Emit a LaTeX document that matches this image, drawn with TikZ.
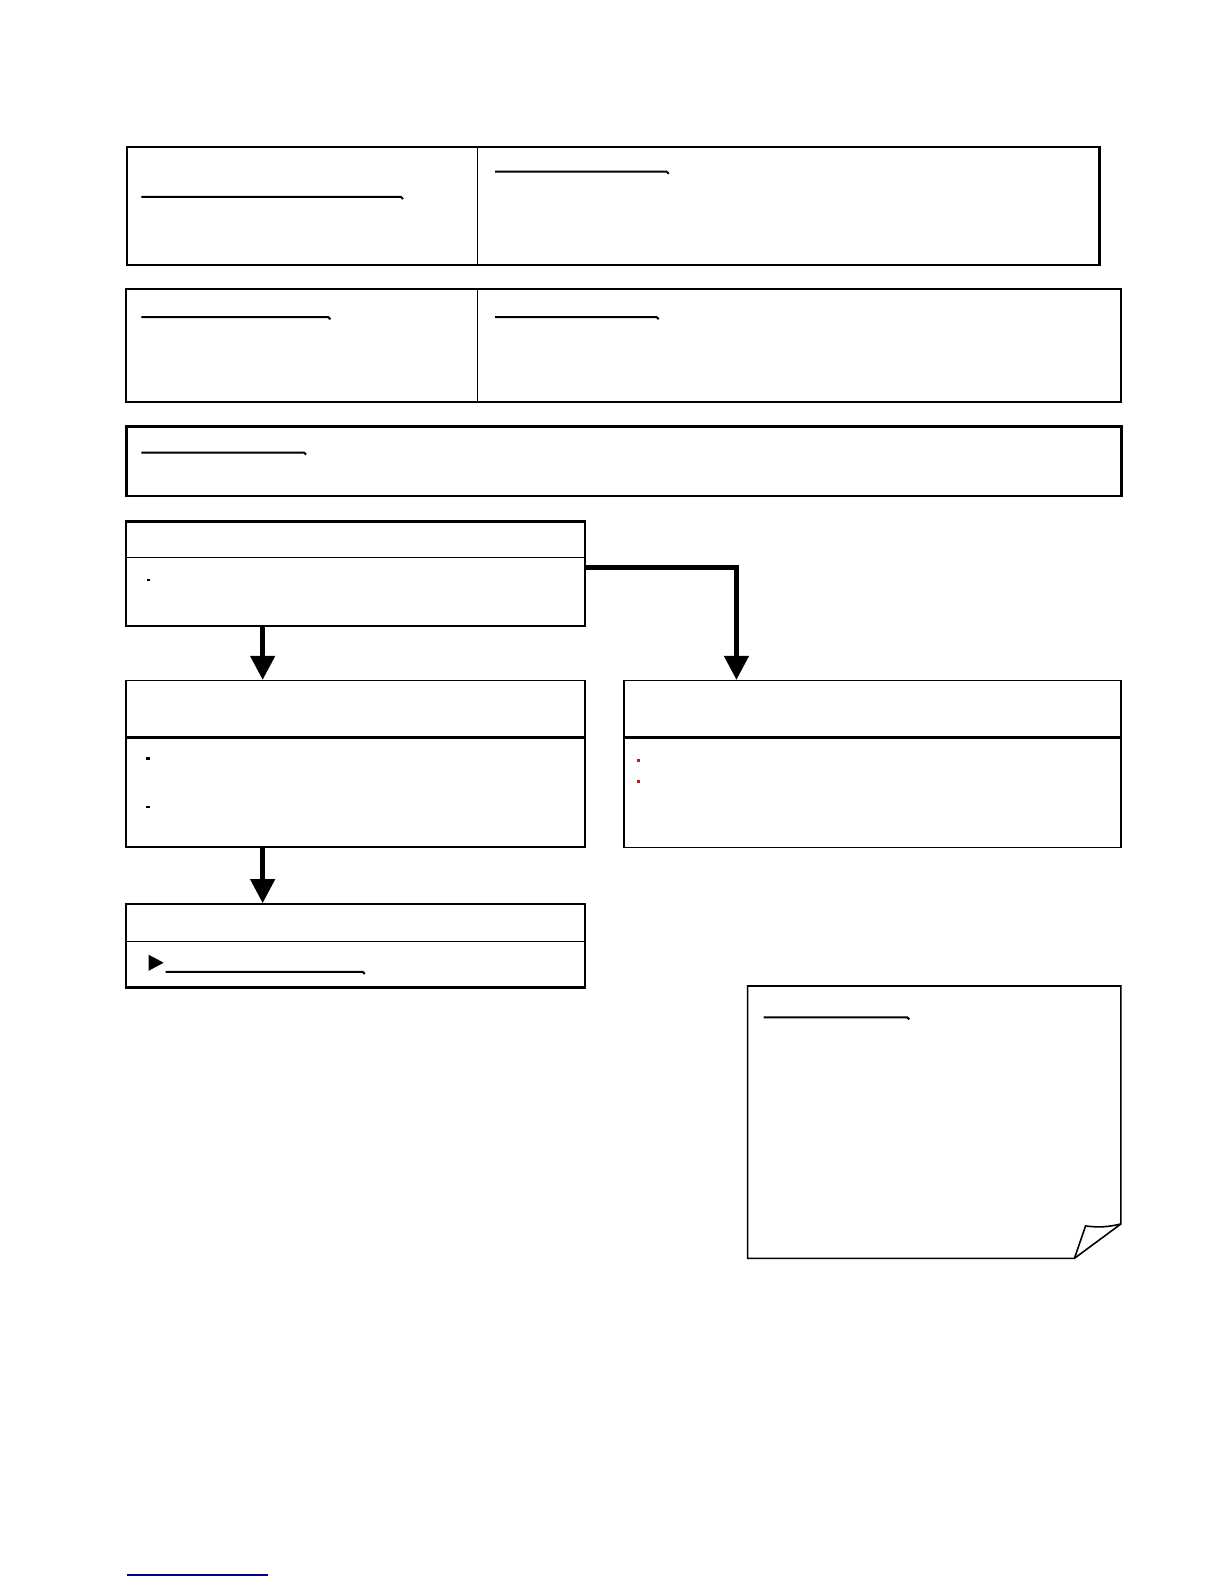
\documentclass[tikz,border=0pt]{standalone}
\usetikzlibrary{arrows.meta}
\definecolor{linkblue}{RGB}{0,0,140}
\definecolor{dotred}{RGB}{200,20,20}
\def\px{0.5051pt}
\tikzset{
  box/.style={draw, rectangle, inner sep=0pt, anchor=north west, line width=0.8pt},
  heavy/.style={line width=1.2pt},
  flow/.style={line width=2.3pt, -{Triangle[width=12pt,length=12pt]}},
  link/.style={line width=1pt},
}
\begin{document}
\begin{tikzpicture}[x=\px,y=-\px]
  \useasboundingbox (0,0) rectangle (1211.6,1568);
  \fill[white] (0,0) rectangle (1211.6,1568);
  \node[box, minimum width=347*\px, minimum height=116*\px] (hl) at (125,145) {};
  \node[box, minimum width=615*\px, minimum height=116*\px] (hr) at (472,145) {};
  \draw[heavy] (hl.south west) -- (hr.south east) -- (hr.north east);
  \node[box, minimum width=348*\px, minimum height=112*\px] (ml) at (124,285) {};
  \node[box, minimum width=637*\px, minimum height=112*\px] (mr) at (472,285) {};
  \node[box, heavy, minimum width=985*\px, minimum height=69*\px] (bar) at (124,421) {};
  \node[box, minimum width=454*\px, minimum height=35*\px] (ahead) at (124,516) {};
  \draw[heavy] (ahead.north west) -- (ahead.north east);
  \node[box, minimum width=454*\px, minimum height=68*\px] (abody) at (124,551) {};
  \node[box, minimum width=454*\px, minimum height=57*\px] (bhead) at (124,673) {};
  \node[box, minimum width=454*\px, minimum height=107*\px] (bbody) at (124,730) {};
  \draw[heavy] (bbody.north west) -- (bbody.north east);
  \draw[heavy] (bbody.south west) -- (bbody.south east);
  \node[box, minimum width=492*\px, minimum height=57*\px] (chead) at (617,673) {};
  \node[box, minimum width=492*\px, minimum height=108*\px] (cbody) at (617,730) {};
  \draw[heavy] (cbody.north west) -- (cbody.north east);
  \node[box, minimum width=454*\px, minimum height=37*\px] (dhead) at (124,894) {};
  \node[box, minimum width=454*\px, minimum height=45*\px] (dbody) at (124,931) {};
  \draw[heavy] (dbody.south west) -- (dbody.south east);
  \node[box, draw=none, minimum width=368*\px, minimum height=268*\px] (note) at (740,976) {};
  \draw[line width=0.8pt] (note.north west) -- (note.north east) -- ([yshift=34*\px]note.south east)
    -- ([xshift=-46*\px]note.south east) -- (note.south west) -- cycle;
  \draw[line width=0.8pt] ([xshift=-46*\px]note.south east) -- ([xshift=-35*\px,yshift=32*\px]note.south east)
    to[bend right=10] ([yshift=34*\px]note.south east);
  \begin{scope}[link]
    \draw (140,195) -- (397,195) -- (399,197);
    \draw (490,170) -- (660,170) -- (662,172);
    \draw (140,314) -- (325,314) -- (327,316);
    \draw (490,314) -- (650,314) -- (652,316);
    \draw (140,448) -- (301,448) -- (303,450);
    \draw (164,962) -- (359,962) -- (361,964);
    \draw (756,1007) -- (898,1007) -- (900,1009);
  \end{scope}
  \draw[linkblue, line width=0.8pt] (125.5,1559) -- (265.3,1559);
  \fill (146,573) rectangle (148,575);
  \fill (145,749) rectangle (148,752);
  \fill (145,798) rectangle (148,800);
  \fill[dotred] (631,751) rectangle (634,754);
  \fill[dotred] (631,772) rectangle (634,775);
  \fill (147,945) -- (162,953) -- (147,961) -- cycle;
  \draw[flow] ([xshift=136*\px]abody.south west) -- ([xshift=136*\px]bhead.north west);
  \draw[flow] ([xshift=136*\px]bbody.south west) -- ([xshift=136*\px]dhead.north west);
  \draw[flow] ([yshift=-11*\px]abody.north east) -| ([xshift=112*\px]chead.north west);
\end{tikzpicture}
\end{document}
